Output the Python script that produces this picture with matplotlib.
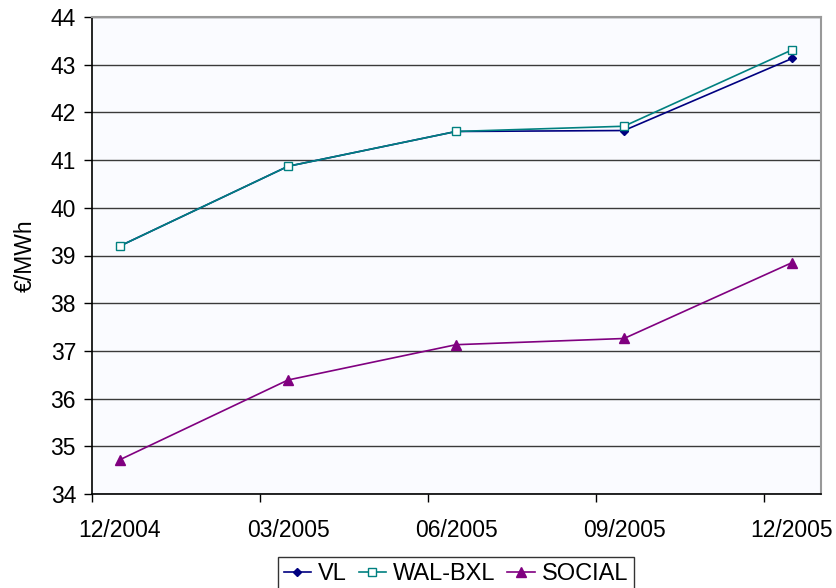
import matplotlib.pyplot as plt
import numpy as np

plt.rcParams['font.family'] = ['Liberation Sans', 'DejaVu Sans']

# data
periods = ['12/2004', '03/2005', '06/2005', '09/2005', '12/2005']
vl = [39.20, 40.87, 41.60, 41.62, 43.13]
wal_bxl = [39.20, 40.87, 41.60, 41.71, 43.31]
social = [34.72, 36.39, 37.13, 37.26, 38.85]

NAVY = '#000080'
TEAL = '#008080'
PURPLE = '#800080'
GRID = '#3a3a3a'

fig = plt.figure(figsize=(8.36, 5.88), dpi=100)
ax = fig.add_axes([92/836, 1 - 494/588, (821 - 92)/836, (494 - 17)/588])
ax.set_facecolor('#fafbff')

x = np.arange(len(periods))
ax.plot(x, vl, color=NAVY, lw=1.2, marker='D', ms=4.5, mfc=NAVY, mec=NAVY, label='VL', zorder=3)
ax.plot(x, wal_bxl, color=TEAL, lw=1.2, marker='s', ms=6, mfc='white', mec=TEAL, label='WAL-BXL', zorder=3)
ax.plot(x, social, color=PURPLE, lw=1.2, marker='^', ms=6.5, mfc=PURPLE, mec=PURPLE, label='SOCIAL', zorder=3)

ax.set_ylim(34, 44)
ax.set_yticks(range(34, 45))
ax.yaxis.grid(True, color=GRID, lw=1)
ax.set_axisbelow(True)

off = 1/6
ax.set_xlim(-off, (821 - 120)/168)
ax.set_xticks(x)
ax.set_xticklabels(periods)
ax.set_xticks(x - off, minor=True)
ax.tick_params(axis='x', which='major', length=0, pad=18, labelsize=16.5)
ax.tick_params(axis='x', which='minor', length=5.5, width=1, direction='out', color='black')
ax.tick_params(axis='y', length=5.5, width=1, direction='out', labelsize=16.5, pad=6)

for side in ['top', 'right']:
    ax.spines[side].set_color('#999999')
    ax.spines[side].set_linewidth(1.5)
for side in ['left', 'bottom']:
    ax.spines[side].set_color('black')
    ax.spines[side].set_linewidth(1.2)

ax.set_ylabel('€/MWh', fontsize=16.5, labelpad=10)

leg = fig.legend(loc='upper center', bbox_to_anchor=(456/836, 1 - 557/588), ncol=3,
                 fontsize=17, frameon=True, fancybox=False, edgecolor='black',
                 handlelength=1.15, handletextpad=0.3, columnspacing=0.5,
                 borderpad=0.25, borderaxespad=0)
leg.get_frame().set_linewidth(1)

fig.savefig('out.png', dpi=100, facecolor='white')
